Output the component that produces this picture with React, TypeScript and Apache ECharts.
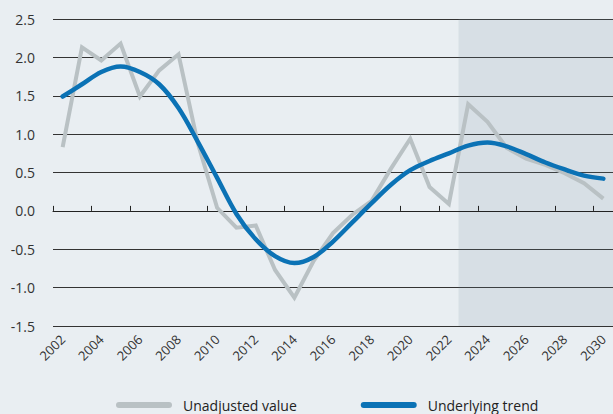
import React, { useEffect, useRef } from "react";
import * as echarts from "echarts";

const years = [
  "2002", "2003", "2004", "2005", "2006", "2007", "2008", "2009", "2010", "2011",
  "2012", "2013", "2014", "2015", "2016", "2017", "2018", "2019", "2020", "2021",
  "2022", "2023", "2024", "2025", "2026", "2027", "2028", "2029", "2030",
];

const unadjustedValue = [
  0.83, 2.13, 1.96, 2.18, 1.49, 1.83, 2.04, 0.88, 0.04, -0.22,
  -0.19, -0.77, -1.13, -0.65, -0.29, -0.05, 0.13, 0.55, 0.94, 0.31,
  0.09, 1.39, 1.16, 0.82, 0.68, 0.6, 0.49, 0.36, 0.16,
];

const underlyingTrend = [
  1.49, 1.65, 1.81, 1.88, 1.81, 1.65, 1.34, 0.9, 0.43, -0.04,
  -0.37, -0.59, -0.68, -0.6, -0.4, -0.15, 0.1, 0.34, 0.53, 0.65,
  0.75, 0.85, 0.89, 0.84, 0.74, 0.63, 0.54, 0.46, 0.42,
];

const yMin = -1.5;
const yMax = 2.5;
const yInterval = 0.5;

// forecast shading: from the boundary between 2022 and 2023 to the end of 2030
const forecastStart = 2022.5;
const forecastEnd = 2030.5;
const yearAxisMin = 2001.5;
const yearAxisMax = 2030.5;

const seriesNames = ["Unadjusted value", "Underlying trend"];

const FONT = "'Open Sans', 'Noto Sans', sans-serif";
const capsule = "path://M3 0H53A3 3 0 0 1 53 6H3A3 3 0 0 1 3 0Z";

export default function App() {
  const ref = useRef<HTMLDivElement>(null);

  useEffect(() => {
    if (!ref.current) return;
    const chart = echarts.init(ref.current, undefined, { renderer: "svg" });
    const grey = "#b9c1c4";
    const blue = "#0b72b5";
    chart.setOption({
      animation: false,
      backgroundColor: "#e9eef2",
      textStyle: { fontFamily: FONT },
      grid: { left: 53, right: 0, top: 19, bottom: 88, containLabel: false },
      legend: {
        left: 111,
        top: 393,
        itemWidth: 56,
        itemHeight: 6,
        itemGap: 64,
        textStyle: { fontFamily: FONT, fontSize: 14, color: "#222", padding: [0, 0, 0, 6] },
        data: [
          { name: seriesNames[0], icon: capsule },
          { name: seriesNames[1], icon: capsule },
        ],
      },
      xAxis: [
        {
          type: "category",
          data: years,
          boundaryGap: true,
          position: "bottom",
          axisLine: { show: true, onZero: true, lineStyle: { color: "#222", width: 1 } },
          axisTick: { show: true, inside: true, length: 5, interval: 1, lineStyle: { color: "#222" } },
          axisLabel: { show: false },
          splitLine: { show: false },
          z: 3,
        },
        {
          type: "category",
          data: years,
          boundaryGap: true,
          position: "bottom",
          axisLine: { show: false, onZero: false },
          axisTick: { show: false },
          axisLabel: {
            show: true,
            interval: 1,
            rotate: 45,
            margin: 11,
            fontSize: 13,
            color: "#333",
            fontFamily: FONT,
          },
          splitLine: { show: false },
        },
        {
          type: "value",
          min: yearAxisMin,
          max: yearAxisMax,
          show: false,
          position: "top",
        },
      ],
      yAxis: {
        type: "value",
        min: yMin,
        max: yMax,
        interval: yInterval,
        axisLine: { show: false },
        axisTick: { show: false },
        axisLabel: {
          fontSize: 14,
          color: "#333",
          margin: 18,
          fontFamily: FONT,
          formatter: (v: number) => v.toFixed(1),
        },
        splitLine: { show: true, lineStyle: { color: "#333", width: 1 } },
      },
      series: [
        {
          name: "forecast",
          type: "line",
          xAxisIndex: 2,
          data: [],
          silent: true,
          markArea: {
            silent: true,
            itemStyle: { color: "rgba(113,138,155,0.15)" },
            data: [[{ xAxis: forecastStart }, { xAxis: forecastEnd }]],
          },
        },
        {
          name: seriesNames[0],
          type: "line",
          xAxisIndex: 0,
          data: unadjustedValue,
          symbol: "none",
          smooth: false,
          itemStyle: { color: grey },
          lineStyle: { color: grey, width: 4, join: "miter" },
          z: 4,
        },
        {
          name: seriesNames[1],
          type: "line",
          xAxisIndex: 0,
          data: underlyingTrend,
          symbol: "none",
          smooth: 0.35,
          itemStyle: { color: blue },
          lineStyle: { color: blue, width: 4.5, cap: "round" },
          z: 5,
        },
      ],
    });
    return () => chart.dispose();
  }, []);

  return (
    <div
      ref={ref}
      style={{ position: "fixed", left: 0, top: 0, width: 613, height: 414 }}
    />
  );
}
